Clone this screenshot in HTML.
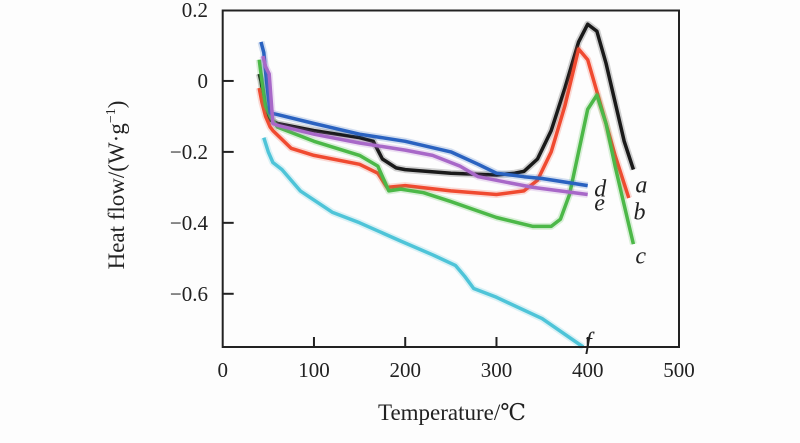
<!DOCTYPE html>
<html><head><meta charset="utf-8"><style>
html,body{margin:0;padding:0;background:#fdfdfd;}
svg{display:block;}
text{font-family:"Liberation Serif","DejaVu Serif","Times New Roman",Times,serif;}
</style></head><body>
<svg width="800" height="443" viewBox="0 0 800 443">
<rect x="0" y="0" width="800" height="443" fill="#fdfdfd"/>
<g id="plot"></g>
<rect x="222.7" y="10.5" width="456.3" height="336.5" fill="none" stroke="#222" stroke-width="2"/>
<g id="axes"></g>
<text x="452" y="420" font-size="23" text-anchor="middle" fill="#222">Temperature/℃</text>
<text transform="translate(124,185) rotate(-90)" font-size="23" text-anchor="middle" fill="#222">Heat flow/(W·g<tspan dy="-9" font-size="14">−1</tspan><tspan dy="9">)</tspan></text>
</svg>
<script>
const xTicks=[0,100,200,300,400,500];
const yTicks=[0.2,0,-0.2,-0.4,-0.6];
const yTickLabels=["0.2","0","−0.2","−0.4","−0.6"];
const seriesNames=["a","b","c","d","e","f"];
const seriesColors=["#1a1a1a","#f04a30","#4cb848","#2a62c0","#a868c8","#4ec4d8"];
const aT=[40,42,45,48,52,60,100,150,165,175,190,200,250,300,320,330,345,360,375,390,400,410,420,430,440,450];
const aV=[0.02,0.0,-0.05,-0.09,-0.11,-0.12,-0.14,-0.16,-0.17,-0.22,-0.245,-0.25,-0.26,-0.265,-0.26,-0.255,-0.22,-0.14,-0.02,0.11,0.16,0.14,0.05,-0.06,-0.17,-0.25];
const bT=[40,43,47,52,55,75,100,150,170,180,200,250,300,330,345,360,375,390,400,410,420,430,440,445];
const bV=[-0.02,-0.06,-0.1,-0.13,-0.14,-0.19,-0.21,-0.235,-0.26,-0.3,-0.295,-0.31,-0.32,-0.31,-0.28,-0.2,-0.07,0.09,0.06,-0.03,-0.12,-0.21,-0.29,-0.33];
const cT=[40,43,47,52,60,100,150,170,182,195,220,250,300,340,360,370,380,390,400,410,420,430,440,450];
const cV=[0.06,0.0,-0.07,-0.1,-0.13,-0.17,-0.21,-0.24,-0.31,-0.305,-0.315,-0.34,-0.385,-0.41,-0.41,-0.39,-0.32,-0.2,-0.08,-0.04,-0.12,-0.24,-0.35,-0.46];
const dT=[42,45,48,52,60,100,150,200,250,280,300,330,350,400];
const dV=[0.11,0.08,0.0,-0.09,-0.095,-0.12,-0.15,-0.17,-0.2,-0.235,-0.26,-0.27,-0.275,-0.295];
const eT=[44,47,51,55,60,100,150,200,230,260,280,300,340,400];
const eV=[0.07,0.04,0.02,-0.12,-0.125,-0.15,-0.175,-0.195,-0.21,-0.24,-0.27,-0.28,-0.3,-0.32];
const fT=[45,50,55,65,85,120,150,194,230,255,265,275,300,350,395];
const fV=[-0.16,-0.2,-0.23,-0.25,-0.31,-0.37,-0.4,-0.45,-0.49,-0.52,-0.55,-0.585,-0.61,-0.67,-0.75];
const seriesT=[aT,bT,cT,dT,eT,fT];
const seriesV=[aV,bV,cV,dV,eV,fV];
const labelPos=[[450,-0.27],[448,-0.345],[450,-0.47],[405,-0.28],[405,-0.32],[395,-0.71]];

const NS="http://www.w3.org/2000/svg";
const X0=222.7,X1=679,Y0=10,Y1=347,TMIN=0,TMAX=500,VMAX=0.2,VMIN=-0.75;
function xs(t){return X0+(t-TMIN)/(TMAX-TMIN)*(X1-X0);}
function ys(v){return Y0+(VMAX-v)/(VMAX-VMIN)*(Y1-Y0);}
const plot=document.getElementById('plot'),axes=document.getElementById('axes');
function mk(tag,attrs,parent){const e=document.createElementNS(NS,tag);for(const k in attrs)e.setAttribute(k,attrs[k]);parent.appendChild(e);return e;}

xTicks.forEach((t,i)=>{
  if(t>0&&t<500){const l=mk('line',{x1:xs(t),x2:xs(t),y1:Y1,y2:Y1-10,stroke:'#222','stroke-width':2},axes);
  
  }
  const tx=mk('text',{x:xs(t),y:Y1+30,'font-size':21,'text-anchor':'middle',fill:'#222'},axes);
  tx.textContent=String(t);
  
  
});
yTicks.forEach((v,i)=>{
  if(i>0){const l=mk('line',{x1:X0,x2:X0+11,y1:ys(v),y2:ys(v),stroke:'#222','stroke-width':2},axes);
  
  }
  const tx=mk('text',{x:208,y:ys(v)+7,'font-size':21,'text-anchor':'end',fill:'#222'},axes);
  tx.textContent=yTickLabels[i];
  
  
});
seriesNames.forEach((n,i)=>{
  const pts=seriesT[i].map((t,j)=>xs(t).toFixed(1)+','+ys(seriesV[i][j]).toFixed(1)).join(' ');
  const g=mk('polyline',{points:pts,fill:'none',stroke:seriesColors[i],'stroke-opacity':0.2,'stroke-width':7,'stroke-linejoin':'round'},plot);
  
  
  const p=mk('polyline',{points:pts,fill:'none',stroke:seriesColors[i],'stroke-width':3.5,'stroke-linejoin':'round'},plot);
  
  
  const lb=mk('text',{x:xs(labelPos[i][0])+2,y:ys(labelPos[i][1])+16,'font-size':24,'font-style':'italic',fill:'#222'},plot);
  lb.textContent=n;
  
  
});
</script>
</body></html>
